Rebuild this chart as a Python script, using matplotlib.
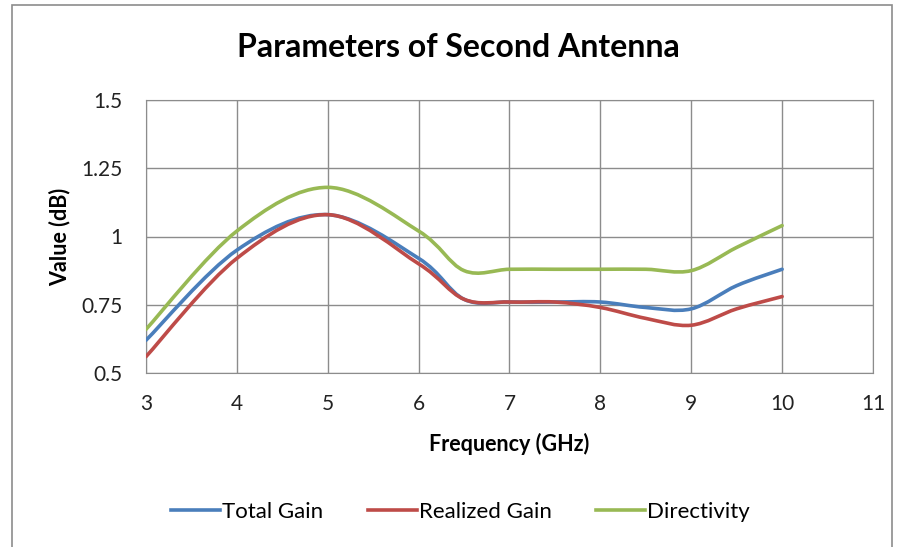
import numpy as np
import matplotlib.pyplot as plt
from matplotlib.path import Path
from matplotlib.patches import PathPatch, Rectangle
from matplotlib.lines import Line2D

plt.rcParams['font.family'] = ['Lato', 'DejaVu Sans']

# данные
freq = [3, 4, 5, 6, 6.5, 7, 7.5, 8, 8.5, 9, 9.5, 10]
total_gain = [0.62, 0.95, 1.08, 0.92, 0.77, 0.76, 0.76, 0.76, 0.74, 0.735, 0.82, 0.88]
realized_gain = [0.56, 0.92, 1.08, 0.90, 0.77, 0.76, 0.76, 0.74, 0.70, 0.675, 0.735, 0.78]
directivity = [0.66, 1.02, 1.18, 1.02, 0.875, 0.88, 0.88, 0.88, 0.88, 0.875, 0.96, 1.04]

series = [
    ('Total Gain', total_gain, '#4A7EBB'),
    ('Realized Gain', realized_gain, '#BE4B48'),
    ('Directivity', directivity, '#98B954'),
]


def smooth_path(x, y):
    # сглаживание как в Excel: кривые Безье через точки
    pts = np.column_stack([x, y]).astype(float)
    n = len(pts)
    verts = [pts[0]]
    codes = [Path.MOVETO]
    for i in range(n - 1):
        p0 = pts[i - 1] if i > 0 else pts[i]
        p1 = pts[i]
        p2 = pts[i + 1]
        p3 = pts[i + 2] if i + 2 < n else pts[i + 1]
        c1 = p1 + (p2 - p0) / 6
        c2 = p2 - (p3 - p1) / 6
        verts += [c1, c2, p2]
        codes += [Path.CURVE4] * 3
    return Path(verts, codes)


fig = plt.figure(figsize=(9.03, 5.47), dpi=100)
ax = fig.add_axes([146 / 903, 1 - 373 / 547, 727 / 903, 273 / 547])

for name, vals, col in series:
    patch = PathPatch(smooth_path(freq, vals), facecolor='none', edgecolor=col,
                      lw=2.6, capstyle='round', joinstyle='round', zorder=3)
    ax.add_patch(patch)

ax.set_xlim(3, 11)
ax.set_ylim(0.5, 1.5)
ax.set_xticks(range(3, 12))
ax.set_yticks([0.5, 0.75, 1, 1.25, 1.5])
ax.set_yticklabels(['0.5', '0.75', '1', '1.25', '1.5'])
ax.grid(True, color='#8c8c8c', lw=1)
ax.set_axisbelow(True)
for s in ax.spines.values():
    s.set_color('#8c8c8c')
ax.tick_params(length=0, labelsize=15, colors='#222222')
ax.tick_params(axis='x', pad=15)
ax.tick_params(axis='y', pad=17)

ax.set_xlabel('Frequency (GHz)', fontsize=15.5, fontweight='bold', labelpad=14)
ax.set_ylabel('Value (dB)', fontsize=15.5, fontweight='bold', labelpad=8)
fig.text(0.508, 1 - 48 / 547, 'Parameters of Second Antenna', ha='center', va='center',
         fontsize=23, fontweight='bold')

handles = [Line2D([], [], color=c, lw=2.6) for _, _, c in series]
fig.legend(handles, [n for n, _, _ in series], loc='center', bbox_to_anchor=(0.51, 1 - 512 / 547),
           ncol=3, frameon=False, fontsize=16, handlelength=2.2, handletextpad=0.1,
           columnspacing=2.0)

fig.patches.append(Rectangle((12 / 903, -0.05), 880 / 903, 1.05 - 5 / 547,
                             transform=fig.transFigure, fill=False,
                             edgecolor='#8c8c8c', lw=1.2))

fig.savefig('out.png', dpi=100)
